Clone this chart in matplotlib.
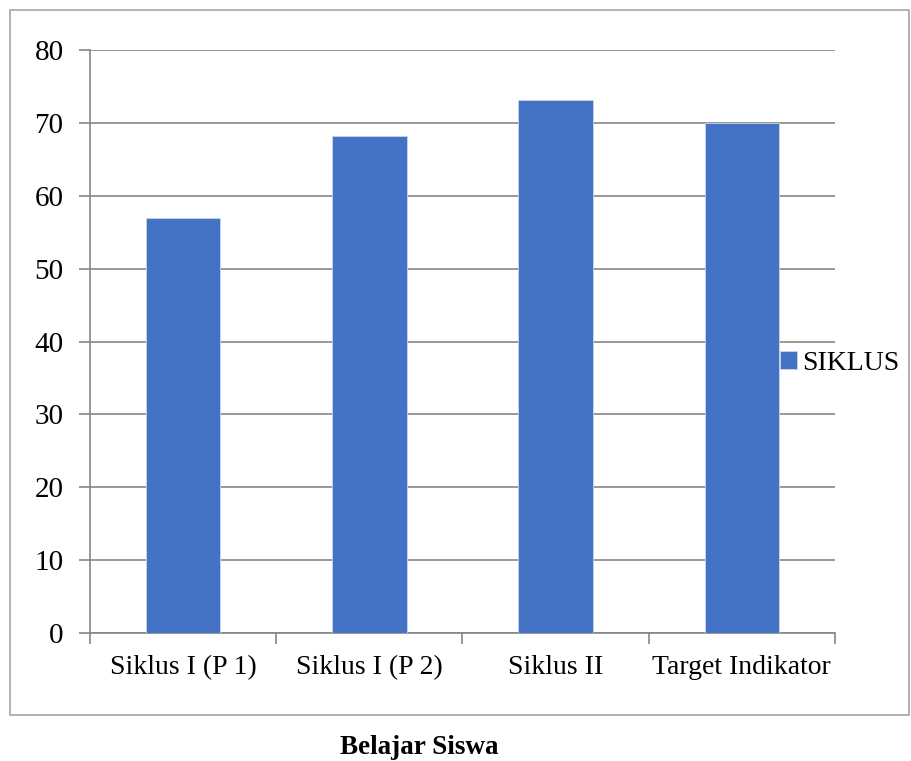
import matplotlib
matplotlib.use("Agg")
import matplotlib.pyplot as plt
from matplotlib.patches import Rectangle
import numpy as np

categories = ["Siklus I (P 1)", "Siklus I (P 2)", "Siklus II", "Target Indikator"]
values = [57, 68.2, 73.2, 70]
series_name = "SIKLUS"
yticks = [0, 10, 20, 30, 40, 50, 60, 70, 80]
title = "Belajar Siswa"

plt.rcParams['font.family'] = ['Liberation Serif', 'DejaVu Serif']

fig = plt.figure(figsize=(9.12, 7.61), dpi=100)
# outer chart border
fig.patches.append(Rectangle((10/912, 1-715/761), 899/912, 705/761, transform=fig.transFigure,
                             fill=False, edgecolor='#a6a6a6', linewidth=1.2))

ax = fig.add_axes([90/912, 1-633/761, 745/912, 583/761])
x = np.arange(len(categories))
bars = ax.bar(x, values, width=0.4, color='#4472C4', edgecolor='#c9d6ee', linewidth=0.6,
              label=series_name, zorder=3)
ax.set_xlim(-0.5, len(categories)-0.5)
ax.set_ylim(0, 80)
ax.set_yticks(yticks)
ax.yaxis.grid(True, color='#868686', linewidth=1.2, zorder=0)
ax.set_axisbelow(True)
for s in ['top', 'right']:
    ax.spines[s].set_visible(False)
for s in ['left', 'bottom']:
    ax.spines[s].set_color('#868686')
    ax.spines[s].set_linewidth(1.2)

ax.set_xticks(np.arange(len(categories)+1) - 0.5, minor=False)
ax.set_xticklabels([])
ax.set_xticks(x, minor=True)
ax.set_xticklabels(categories, minor=True, fontsize=20)
ax.tick_params(axis='x', which='minor', length=0, pad=16)
ax.tick_params(axis='x', which='major', length=8, color='#868686', width=1.2)
ax.tick_params(axis='y', length=8, color='#868686', width=1.2, labelsize=21, pad=11)

leg = fig.legend(handles=[bars], labels=[series_name], loc='center left',
                 bbox_to_anchor=(766/912, 1-363/761), frameon=False, fontsize=20,
                 handlelength=0.6, handleheight=0.6, handletextpad=0.2, borderpad=0)

fig.text(419/912, 1-748/761, title, ha='center', va='center', fontsize=19.5, fontweight='bold')

fig.savefig("out.png", dpi=100)
